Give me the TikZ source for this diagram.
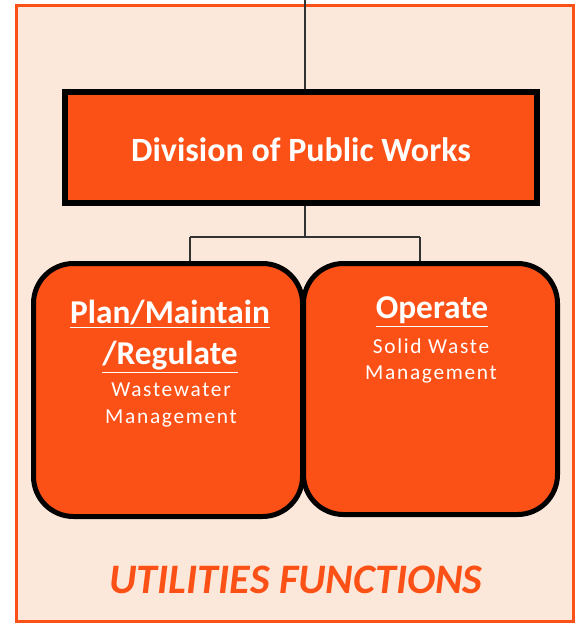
\documentclass[tikz,border=0pt]{standalone}
\usepackage{fontspec}
\setmainfont{Carlito}
\definecolor{pwOrange}{RGB}{252,81,22}
\definecolor{pwPeach}{RGB}{252,232,218}
\definecolor{pwLine}{RGB}{50,50,50}
\tikzset{every picture/.style={line width=0.75pt}}
\tikzset{
  deptbox/.style={draw=black, line width=4.5pt, fill=pwOrange, minimum width=354pt, minimum height=83.25pt, inner sep=0pt},
  unitbox/.style={draw=black, line width=3.75pt, fill=pwOrange, rounded corners=30pt, inner sep=0pt},
  headtxt/.style={text=white, font=\bfseries\fontsize{25}{28}\selectfont, inner sep=0.75pt},
  subtxt/.style={text=white, font=\fontsize{16}{19}\selectfont\addfontfeatures{LetterSpace=8}, inner sep=0.75pt, align=center},
  link/.style={draw=pwLine, line width=0.8pt}
}

\begin{document}
\begin{tikzpicture}[x=0.75pt,y=0.75pt,yscale=-1,xscale=1]
		\useasboundingbox (0,0) rectangle (577,627);

		%Shape: Outer frame
		\draw [draw=pwOrange, line width=2.25pt, fill=pwPeach] (16,6) rectangle (573,621);

		% Boxes
		\node [deptbox] (works) at (301,147.5) {};
		\node [unitbox, minimum width=201.75pt, minimum height=189.75pt] (plan) at (168,390) {};
		\node [unitbox, minimum width=190.5pt, minimum height=188.25pt] (operate) at (430.5,389) {};

		% Connectors
		\coordinate (top) at (305,0);
		\coordinate (jmid) at (305,237);
		\coordinate (jl) at (190,237);
		\coordinate (jr) at (420,237);
		\draw [link] (top) -- (top |- works.north);
		\draw [link] (jmid |- works.south) -- (jmid);
		\draw [link] (jl) -- (jr);
		\draw [link] (jl) -- (jl |- plan.north);
		\draw [link] (jr) -- (jr |- operate.north);

		% Text Node
		\node [headtxt, font=\bfseries\fontsize{25.5}{28}\selectfont] (workstxt) at (301,150) {Division of Public Works};
		% Text Node
		\node [headtxt] (plantxt) at (170,314) {\underline{Plan/Maintain}};
		% Text Node
		\node [headtxt] (regtxt) at (170,357) {\underline{/Regulate}};
		% Text Node
		\node [subtxt] (wwtxt) at (171,390) {Wastewater};
		% Text Node
		\node [subtxt] (wwmgmt) at (171,418) {Management};
		% Text Node
		\node [headtxt] (optxt) at (432,312) {\underline{Operate}};
		% Text Node
		\node [subtxt] (swtxt) at (431,346) {Solid Waste};
		% Text Node
		\node [subtxt] (swmgmt) at (431,374) {Management};
		% Text Node
		\node [text=pwOrange, font=\bfseries\itshape\fontsize{31.5}{34}\selectfont, inner sep=0.75pt] (functxt) at (296,580) {UTILITIES FUNCTIONS};

	\end{tikzpicture}
\end{document}
